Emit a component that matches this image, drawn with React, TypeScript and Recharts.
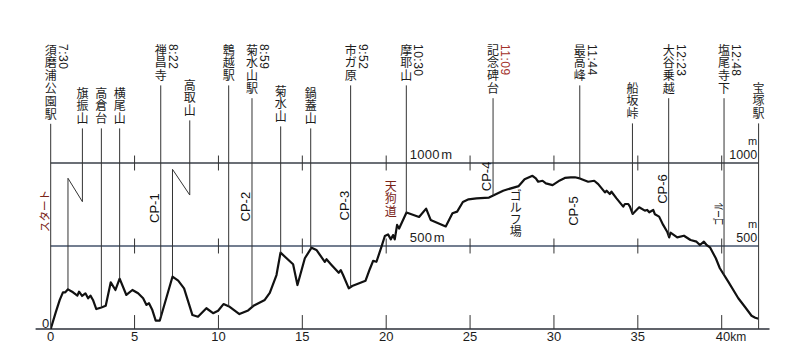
import React from 'react';
import { ComposedChart, Line, XAxis, YAxis, ReferenceLine, ReferenceDot } from 'recharts';

// 六甲全山縦走 断面図（須磨浦公園駅 → 宝塚駅）
const TOTAL_KM = 42.2;
const Y_TOP = 1800;

// コース断面（距離km / 標高m）
const profileKm = [
  0, 0.3, 0.54, 0.73, 0.87, 1.03, 1.33, 1.59, 1.69, 1.87, 2.07, 2.23, 2.37, 2.52, 2.72, 3.02, 3.28,
  3.58, 3.86, 4.11, 4.51, 4.87, 5.21, 5.51, 5.71, 5.86, 6.06, 6.26, 6.5, 7.26, 7.6, 7.95, 8.45,
  8.78, 9.28, 9.68, 9.98, 10.3, 10.67, 11.25, 11.77, 12.12, 12.76, 13.06, 13.46, 13.7, 14.45,
  14.71, 15.15, 15.55, 15.84, 16.34, 16.44, 16.74, 17.17, 17.29, 17.43, 17.77, 17.97, 18.77,
  19.02, 19.22, 19.42, 19.72, 19.92, 20.11, 20.28, 20.41, 20.51, 20.65, 20.77, 21.21, 21.96,
  22.38, 22.65, 23.55, 23.95, 24.23, 24.57, 24.91, 25.38, 26.13, 26.97, 27.2, 27.9, 28.25,
  28.72, 28.92, 29.06, 29.32, 29.52, 29.92, 30.35, 30.65, 31.0, 31.25, 31.54, 32.04, 32.4,
  32.64, 33.04, 33.14, 33.33, 33.43, 33.73, 34.13, 34.23, 34.43, 34.53, 34.69, 35.08, 35.42,
  35.56, 35.68, 35.92, 36.02, 36.27, 36.51, 36.75, 36.87, 36.95, 37.35, 37.75, 38.14, 38.5,
  38.7, 38.94, 39.1, 39.3, 39.65, 39.89, 40.39, 40.99, 41.38, 41.78, 42.0, 42.2,
];
const profileM = [
  0, 100, 175, 221, 221, 239, 221, 201, 225, 199, 215, 185, 201, 175, 120, 130, 140,
  281, 235, 303, 205, 235, 215, 185, 145, 155, 114, 50, 50, 315, 291, 245, 84,
  74, 125, 95, 110, 150, 134, 90, 112, 142, 175, 217, 325, 460, 390,
  265, 426, 490, 476, 405, 420, 386, 339, 355, 325, 245, 259, 291,
  360, 410, 405, 496, 560, 570, 540, 566, 540, 627, 605, 702, 675,
  725, 657, 618, 697, 707, 765, 781, 787, 792, 833, 840, 861, 902,
  923, 907, 887, 893, 877, 867, 895, 910, 913, 914, 907, 887, 893,
  873, 823, 833, 813, 827, 787, 737, 753, 753, 737, 693, 733, 713,
  717, 703, 717, 691, 677, 627, 586, 552, 580, 552, 562, 536, 526,
  506, 526, 506, 492, 426, 366, 285, 185, 134, 80, 68, 62,
];

// 地点と通過時刻
const waypoints = [
  { name: '須磨浦公園駅', km: 0, time: '7:30' },
  { name: '旗振山', km: 1.03 },
  { name: '高倉台', km: 3.02 },
  { name: '横尾山', km: 4.11 },
  { name: '禅昌寺', km: 6.56, time: '8:22' },
  { name: '高取山', km: 7.26 },
  { name: '鵯越駅', km: 10.61 },
  { name: '菊水山駅', km: 12.0, time: '8:59' },
  { name: '菊水山', km: 13.71 },
  { name: '鍋蓋山', km: 15.5 },
  { name: '市ガ原', km: 17.88, time: '9:52' },
  { name: '摩耶山', km: 21.2, time: '10:30' },
  { name: '記念碑台', km: 26.37, time: '11:09' },
  { name: '最高峰', km: 31.54, time: '11:44' },
  { name: '船坂峠', km: 34.68 },
  { name: '大谷乗越', km: 36.84, time: '12:23' },
  { name: '塩尾寺下', km: 40.14, time: '12:48' },
  { name: '宝塚駅', km: TOTAL_KM },
];

// チェックポイント
const checkpoints = [
  { label: 'スタート', at: '須磨浦公園駅' },
  { label: 'CP-1', at: '禅昌寺' },
  { label: 'CP-2', at: '菊水山駅' },
  { label: 'CP-3', at: '市ガ原' },
  { label: 'CP-4', at: '記念碑台' },
  { label: 'CP-5', at: '最高峰' },
  { label: 'CP-6', at: '大谷乗越' },
  { label: 'ゴール', at: '塩尾寺下' },
];

const routeNotes = [
  { text: '天狗道', km: 20.27 },
  { text: 'ゴルフ場', km: 27.72 },
];

const kmTicks = [0, 5, 10, 15, 20, 25, 30, 35, 40];
const heightLines = [500, 1000];

// --- layout ---
const JP = "'Noto Sans CJK JP', 'Noto Sans', sans-serif";
const NARROW = "'Liberation Sans Narrow', 'Liberation Sans', Arial, sans-serif";
const SANS = "'Liberation Sans', Arial, sans-serif";
const INK = '#1c1c1c';
const RED = '#7a2418';
const PITCH = 12.8;
const TOP_ROW = 36;
const labelTop: Record<string, number> = {
  旗振山: 79, 高倉台: 79, 横尾山: 79, 高取山: 71, 菊水山: 77, 鍋蓋山: 79, 船坂峠: 74, 宝塚駅: 74,
};
// 名前の位置をずらした地点の引出線（ラベル位置km, 折れ点の標高）
const leaderBreaks: Record<string, { labelKm: number; low: number; high: number }> = {
  旗振山: { labelKm: 1.89, low: 767, high: 908 },
  高取山: { labelKm: 8.29, low: 807, high: 962 },
};
const cpHeight: Record<string, number> = {
  スタート: 711, 'CP-1': 728, 'CP-2': 737, 'CP-3': 743, 'CP-4': 919, 'CP-5': 711, 'CP-6': 843, ゴール: 693,
};
const noteTop: Record<string, number> = { 天狗道: 898, ゴルフ場: 843 };

const profile = profileKm.map((km, i) => ({ km, elev: profileM[i] }));

function elevAt(km: number) {
  for (let i = 1; i < profileKm.length; i++) {
    if (km <= profileKm[i]) {
      const t = (km - profileKm[i - 1]) / (profileKm[i] - profileKm[i - 1]);
      return profileM[i - 1] + t * (profileM[i] - profileM[i - 1]);
    }
  }
  return profileM[profileM.length - 1];
}

const KmTick = (props: any) => {
  const { x, y, payload } = props;
  const v = payload.value;
  const last = v === 40;
  return (
    <text x={last ? x - 6 : x} y={y} dy="0.71em" textAnchor={last ? 'start' : 'middle'}
      fontSize={13} fontFamily={NARROW} fill={INK}>
      {v}
      {last && <tspan fontSize={12}>km</tspan>}
    </text>
  );
};

// 縦書き：1文字ずつ下へ積む
const VerticalText = ({ x, top, text, fill = INK, pitch = PITCH }: any) => (
  <g>
    {Array.from(text as string).map((c, i) => (
      <text key={i} x={x} y={top + i * pitch + 10.6} textAnchor="middle" fontSize={12}
        fontFamily={JP} fill={fill}>
        {c}
      </text>
    ))}
  </g>
);

const WaypointLabel = ({ cx, cy, name, time, top }: any) => {
  const bottom = top + Array.from(name as string).length * PITCH;
  return (
    <g>
      <VerticalText x={cx} top={top} text={name} />
      {time && (
        <text transform={`translate(${cx + 12},${top}) rotate(90)`} dominantBaseline="central"
          fontSize={12} fontFamily={SANS} letterSpacing={0.5}
          fill={time === '11:09' ? '#a3322a' : INK}>
          {time}
        </text>
      )}
      <line x1={cx} x2={cx} y1={bottom + 3} y2={cy} stroke="#333" strokeWidth={1} />
    </g>
  );
};

const CheckpointLabel = ({ cx, cy, label }: any) => {
  const kana = !label.startsWith('CP');
  return (
    <text transform={`translate(${cx - 6.5},${cy}) rotate(-90)`} textAnchor="middle"
      dominantBaseline="central" fontSize={kana ? 11 : 13} fontFamily={kana ? JP : NARROW}
      fill={label === 'スタート' ? RED : '#111'}
      {...(kana ? { textLength: label === 'スタート' ? 42 : 23, lengthAdjust: 'spacingAndGlyphs' } : {})}>
      {label}
    </text>
  );
};

export default function App() {
  const kmOf = (name: string) => waypoints.find(w => w.name === name)!.km;

  return (
    <div style={{ width: 784, height: 350, background: '#fff' }}>
      <ComposedChart width={784} height={350} data={profile}
        margin={{ top: 22.2, right: 33.4, bottom: 9, left: 42.7 }}>
        <XAxis type="number" dataKey="km" domain={[0, TOTAL_KM]} allowDataOverflow ticks={kmTicks}
          interval={0} axisLine={false} tickLine={false} tickSize={0} tickMargin={3} height={20}
          tick={<KmTick />} />
        <YAxis type="number" domain={[0, Y_TOP]} allowDataOverflow hide />

        {/* 基線と標高線 */}
        <ReferenceLine segment={[{ x: -0.9, y: 0 }, { x: 42.85, y: 0 }]} ifOverflow="visible"
          stroke="#2b2f38" strokeWidth={1.3} />
        {heightLines.map(h => (
          <ReferenceLine key={h} y={h} ifOverflow="visible" stroke={h === 500 ? '#45536b' : '#3a3f48'}
            strokeWidth={1.3} />
        ))}
        {kmTicks.slice(1).map(k => (
          <ReferenceLine key={`b${k}`} segment={[{ x: k, y: 0 }, { x: k, y: 84 }]} ifOverflow="visible"
            stroke="#333" strokeWidth={1} />
        ))}
        {kmTicks.slice(1).flatMap(k => heightLines.map(h => (
          <ReferenceLine key={`t${k}-${h}`} segment={[{ x: k, y: h - 45 }, { x: k, y: h + 45 }]}
            ifOverflow="visible" stroke="#333" strokeWidth={1} />
        )))}

        {/* 地点名と引出線 */}
        {waypoints.map(w => {
          const brk = leaderBreaks[w.name];
          const ground = w.km === 0 || w.km === TOTAL_KM ? 0 : elevAt(w.km);
          const top = labelTop[w.name] ?? TOP_ROW;
          return (
            <ReferenceDot key={w.name} x={brk ? brk.labelKm : w.km} y={brk ? brk.low : ground} r={0}
              ifOverflow="visible"
              shape={(p: any) => <WaypointLabel cx={p.cx} cy={p.cy} name={w.name} time={w.time} top={top} />} />
          );
        })}
        {waypoints.filter(w => leaderBreaks[w.name]).flatMap(w => {
          const brk = leaderBreaks[w.name];
          return [
            <ReferenceLine key={`z1${w.name}`} ifOverflow="visible" stroke="#333" strokeWidth={1}
              segment={[{ x: brk.labelKm, y: brk.low }, { x: w.km, y: brk.high }]} />,
            <ReferenceLine key={`z2${w.name}`} ifOverflow="visible" stroke="#333" strokeWidth={1}
              segment={[{ x: w.km, y: brk.high }, { x: w.km, y: elevAt(w.km) }]} />,
          ];
        })}

        {checkpoints.map(c => (
          <ReferenceDot key={c.label} x={kmOf(c.at)} y={cpHeight[c.label]} r={0} ifOverflow="visible"
            shape={(p: any) => <CheckpointLabel cx={p.cx} cy={p.cy} label={c.label} />} />
        ))}

        {routeNotes.map(n => (
          <ReferenceDot key={n.text} x={n.km} y={noteTop[n.text]} r={0} ifOverflow="visible"
            shape={(p: any) => (
              <VerticalText x={p.cx} top={p.cy} text={n.text} pitch={n.text === '天狗道' ? 12.7 : 12}
                fill={n.text === '天狗道' ? RED : INK} />
            )} />
        ))}

        {/* 標高の目盛 */}
        <ReferenceDot x={0} y={0} r={0} ifOverflow="visible"
          shape={(p: any) => (
            <text x={p.cx - 1.5} y={p.cy - 1} textAnchor="end" fontSize={13} fontFamily={NARROW} fill={INK}>0</text>
          )} />
        {heightLines.map(h => (
          <ReferenceDot key={`l${h}`} x={21.4} y={h} r={0} ifOverflow="visible"
            shape={(p: any) => (
              <text x={p.cx} y={p.cy - 4} fontSize={13} fontFamily={NARROW} fill={INK} letterSpacing={0.3}>
                {h}
                <tspan dx={1.5}>m</tspan>
              </text>
            )} />
        ))}
        {heightLines.map(h => (
          <ReferenceDot key={`r${h}`} x={TOTAL_KM} y={h} r={0} ifOverflow="visible"
            shape={(p: any) => (
              <g fontFamily={NARROW} fill={INK} textAnchor="end">
                <text x={p.cx - 1.5} y={p.cy - 18.5} fontSize={11}>m</text>
                <text x={p.cx - 1.5} y={p.cy - 4.5} fontSize={12.5}>{h}</text>
              </g>
            )} />
        ))}

        <Line type="linear" dataKey="elev" stroke="#111" strokeWidth={2.2} strokeLinejoin="round"
          dot={false} activeDot={false} isAnimationActive={false} />
      </ComposedChart>
    </div>
  );
}
